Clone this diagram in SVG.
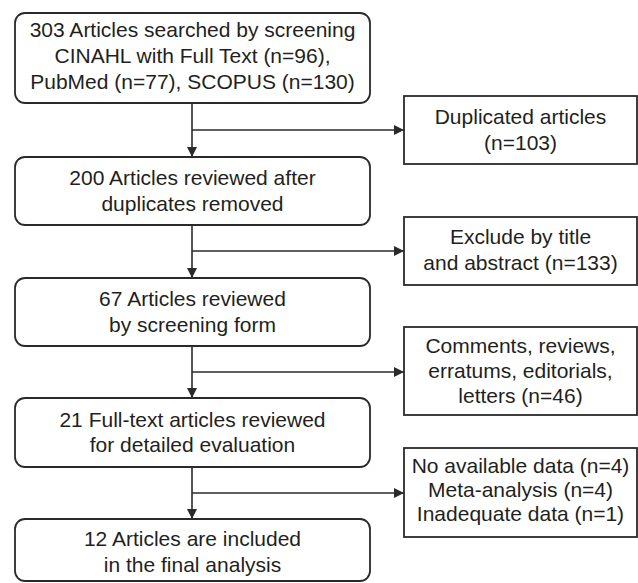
<svg xmlns="http://www.w3.org/2000/svg" width="638" height="583" viewBox="0 0 638 583">
<defs>
<style>
.box{fill:#fff;stroke:#2a2a2a;stroke-width:1.8}
.ln{fill:none;stroke:#2a2a2a;stroke-width:1.6}
text{font-family:"Liberation Sans",Arial,sans-serif;font-size:21px;fill:#231f20;text-anchor:middle}
</style>
<marker id="ah" viewBox="0 0 10 10" refX="10" refY="5" markerWidth="10" markerHeight="10" markerUnits="userSpaceOnUse" orient="auto">
<path d="M0,0 L10,5 L0,10 Z" fill="#2a2a2a"/>
</marker>
</defs>
<g id="connectors">
<line class="ln" x1="192" y1="103" x2="192" y2="157" marker-end="url(#ah)"/>
<line class="ln" x1="192" y1="130" x2="404" y2="130" marker-end="url(#ah)"/>
<line class="ln" x1="192" y1="225" x2="192" y2="278" marker-end="url(#ah)"/>
<line class="ln" x1="192" y1="251" x2="404" y2="251" marker-end="url(#ah)"/>
<line class="ln" x1="192" y1="346" x2="192" y2="398" marker-end="url(#ah)"/>
<line class="ln" x1="192" y1="372" x2="404" y2="372" marker-end="url(#ah)"/>
<line class="ln" x1="192" y1="467" x2="192" y2="519" marker-end="url(#ah)"/>
<line class="ln" x1="192" y1="493" x2="404" y2="493" marker-end="url(#ah)"/>
</g>
<g id="n1">
<rect class="box" x="15" y="13" width="355" height="90" rx="10"/>
<text x="192.5" y="37">303 Articles searched by screening</text>
<text x="192.5" y="63">CINAHL with Full Text (n=96),</text>
<text x="192.5" y="89">PubMed (n=77), SCOPUS (n=130)</text>
</g>
<g id="n2">
<rect class="box" x="15" y="157" width="355" height="68" rx="10"/>
<text x="192.5" y="185">200 Articles reviewed after</text>
<text x="192.5" y="211">duplicates removed</text>
</g>
<g id="n3">
<rect class="box" x="15" y="278" width="355" height="68" rx="10"/>
<text x="192.5" y="306">67 Articles reviewed</text>
<text x="192.5" y="332">by screening form</text>
</g>
<g id="n4">
<rect class="box" x="15" y="398" width="355" height="69" rx="10"/>
<text x="192.5" y="427">21 Full-text articles reviewed</text>
<text x="192.5" y="452">for detailed evaluation</text>
</g>
<g id="n5">
<rect class="box" x="15" y="519" width="355" height="62" rx="10"/>
<text x="192.5" y="546">12 Articles are included</text>
<text x="192.5" y="572">in the final analysis</text>
</g>
<g id="r1">
<rect class="box" x="404" y="96" width="233" height="68"/>
<text x="520.5" y="124">Duplicated articles</text>
<text x="520.5" y="150">(n=103)</text>
</g>
<g id="r2">
<rect class="box" x="404" y="217" width="233" height="68"/>
<text x="520.5" y="244">Exclude by title</text>
<text x="520.5" y="270">and abstract (n=133)</text>
</g>
<g id="r3">
<rect class="box" x="404" y="327" width="233" height="88"/>
<text x="520.5" y="353">Comments, reviews,</text>
<text x="520.5" y="378">erratums, editorials,</text>
<text x="520.5" y="403">letters (n=46)</text>
</g>
<g id="r4">
<rect class="box" x="404" y="448" width="233" height="89"/>
<text x="520.5" y="473">No available data (n=4)</text>
<text x="520.5" y="497">Meta-analysis (n=4)</text>
<text x="520.5" y="521">Inadequate data (n=1)</text>
</g>
</svg>
